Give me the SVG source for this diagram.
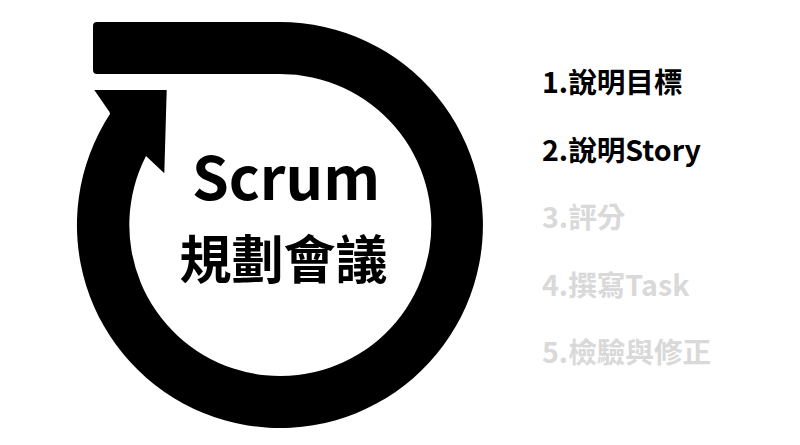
<svg xmlns="http://www.w3.org/2000/svg" width="800" height="445" viewBox="0 0 800 445">
<style>
.t{font-family:"Noto Sans CJK TC","Noto Sans CJK SC",sans-serif;font-weight:700}
.on{fill:#000}
.off{fill:#d9d9d9}
</style>
<rect width="800" height="445" fill="#fff"/>
<g id="cycle-arrow">
<path d="M 97 22 H 280 A 203 203 0 1 1 110.1 113.8 L 109.3 111.7 L 94.3 90 L 166.7 90 L 164.3 173.3 L 146 156 A 151 151 0 1 0 280 74 H 97 Q 93 74 93 70 V 26 Q 93 22 97 22 Z" fill="#000"/>
</g>
<g id="title">
<text class="t on" x="286" y="200" font-size="59" text-anchor="middle">Scrum</text>
<text class="t on" x="283.5" y="279" font-size="52" text-anchor="middle">規劃會議</text>
</g>
<g id="steps">
<text class="t on" x="542" y="93" font-size="28.6">1.說明目標</text>
<text class="t on" x="542" y="160.5" font-size="28.6">2.說明Story</text>
<text class="t off" x="542" y="228" font-size="28.6">3.評分</text>
<text class="t off" x="542" y="295.5" font-size="28.6">4.撰寫Task</text>
<text class="t off" x="542" y="363" font-size="28.6">5.檢驗與修正</text>
</g>
<g id="connectors"></g>
</svg>
